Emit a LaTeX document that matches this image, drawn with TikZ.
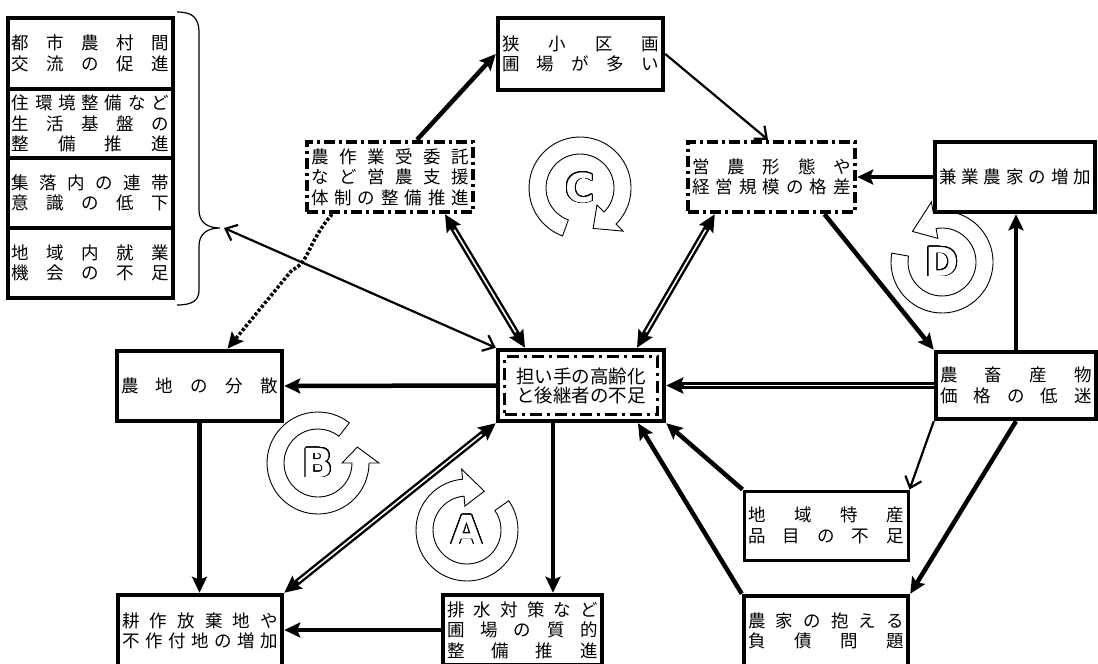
\documentclass[tikz,border=0pt]{standalone}
\usepackage{fontspec}
\usepackage[copies]{contour}
\usetikzlibrary{arrows.meta}
\newfontfamily\jpfont{Noto Sans CJK JP}
\newfontfamily\letterfont{DejaVu Sans}
\contourlength{0.8pt}
\contournumber{32}

% spread the characters of one line over the whole width
\newcommand\jl[1]{\makebox[\linewidth][s]{\jlfirst#1\relax}}
\def\jlfirst#1{#1\jlrest}
\def\jlrest#1{\ifx\relax#1\else\hfill#1\expandafter\jlrest\fi}

% hollow ring arrow with a letter: cx, cy, start angle, end angle, tip angle, letter
\newcommand\cycarrow[6]{%
  \begin{scope}[shift={(#1,#2)}, yscale=-1]
    \filldraw[ring] (#3:51) arc[start angle=#3, end angle=#4, radius=51]
      -- (#4:61) -- (#5:42.5) -- (#4:24) -- (#4:34)
      arc[start angle=#4, end angle=#3, radius=34] -- cycle;
    \node[cycletter] (cyc#6) at (0,0) {\contour{black}{#6}};
  \end{scope}}

\begin{document}
\begin{tikzpicture}[x=1pt, y=-1pt,
    box/.style 2 args={draw, line width=4.5pt, minimum width=#1, minimum height=#2,
      text width=#1-8, inner sep=0pt, align=center,
      font=\jpfont\fontsize{17.5}{20.5}\selectfont},
    dashbox/.style={dash pattern=on 11pt off 4pt on 3pt off 4pt},
    thinbox/.style={line width=3pt},
    innerdash/.style={draw, line width=3pt, inner sep=0pt,
      dash pattern=on 12pt off 5pt on 3pt off 5pt},
    arr/.style={line width=4.5pt, -{Stealth[length=16pt,width=15pt,inset=3pt]}},
    dbl/.style={line width=6.5pt,
      {Stealth[length=17pt,width=16pt,inset=3pt]}-{Stealth[length=17pt,width=16pt,inset=3pt]},
      postaction={draw=white, line width=1.6pt, arrows=-, shorten <=18pt, shorten >=18pt}},
    dblone/.style={line width=6.5pt, -{Stealth[length=17pt,width=16pt,inset=3pt]},
      postaction={draw=white, line width=1.6pt, arrows=-, shorten >=18pt}},
    thin/.style={line width=2.2pt, -{Straight Barb[length=10pt,width=17pt]}},
    thinboth/.style={line width=2.2pt, {Straight Barb[length=10pt,width=17pt]}-{Straight Barb[length=10pt,width=17pt]}},
    dotarr/.style={line width=3.5pt, dash pattern=on 3pt off 2pt,
      -{Stealth[length=16pt,width=15pt,inset=3pt]}},
    ring/.style={fill=white, draw=black, line width=0.9pt},
    cycletter/.style={font=\letterfont\bfseries\fontsize{40}{40}\selectfont,
      text=white, inner sep=0pt}
  ]
  \useasboundingbox (0,0) rectangle (1098,664);
  \clip (0,0) rectangle (1098,664);

  % ring arrows
  \cycarrow{318}{463}{52}{360}{22}{B}
  \cycarrow{467}{530}{35}{-265}{-294}{A}
  \cycarrow{580}{188}{250}{-45}{-72}{C}
  \cycarrow{942}{262}{170}{460}{494}{D}

  % left column
  \node[box={165}{71}] (s1) at (90.5,53.5) {\jl{都市農村間}\\\jl{交流の促進}};
  \node[box={165}{69}] (s2) at (90.5,123.5) {\jl{住環境整備など}\\\jl{生活基盤の}\\\jl{整備推進}};
  \node[box={165}{70}] (s3) at (90.5,193) {\jl{集落内の連帯}\\\jl{意識の低下}};
  \node[box={165}{70}] (s4) at (90.5,263) {\jl{地域内就業}\\\jl{機会の不足}};
  \coordinate (bracetip) at (220,228);
  \draw[line width=1.2pt] (177,12) .. controls (193,12) and (199,18) .. (199,33)
    -- (199,210) .. controls (199,222) and (207,228) .. (bracetip)
    .. controls (207,228) and (199,234) .. (199,246)
    -- (199,290) .. controls (199,300) and (193,305) .. (177,305);

  % boxes
  \node[box={165}{72}] (kyosho) at (580.5,54) {\jl{狭小区画}\\\jl{圃場が多い}};
  \node[box={166}{70}, dashbox] (itaku) at (390,177) {\jl{農作業受委託}\\\jl{など営農支援}\\\jl{体制の整備推進}};
  \node[box={167}{70}, dashbox] (keitai) at (771.5,177) {\jl{営農形態や}\\\jl{経営規模の格差}};
  \node[box={160}{70}] (kengyo) at (1015,177) {\jl{兼業農家の増加}};
  \node[box={165}{70}] (bunsan) at (199.5,386) {\jl{農地の分散}};
  \node[box={166}{71}, font=\jpfont\fontsize{18.5}{19}\selectfont] (ninaite) at (581,385.5) {担い手の高齢化\\と後継者の不足};
  \node[innerdash, minimum width=153, minimum height=58] (ninaiteIn) at (ninaite) {};
  \node[box={160}{67}] (kakaku) at (1016,385.5) {\jl{農畜産物}\\\jl{価格の低迷}};
  \node[box={164}{69}, thinbox] (tokusan) at (826,525.5) {\jl{地域特産}\\\jl{品目の不足}};
  \node[box={164}{72}] (houki) at (200,631) {\jl{耕作放棄地や}\\\jl{不作付地の増加}};
  \node[box={159}{70}] (haisui) at (522.5,630) {\jl{排水対策など}\\\jl{圃場の質的}\\\jl{整備推進}};
  \node[box={164}{70}] (fusai) at (826,631) {\jl{農家の抱える}\\\jl{負債問題}};

  % connectors
  \draw[arr] (ninaite.west) -- (bunsan.east);
  \draw[arr] (bunsan.south) -- (bunsan.south |- houki.north);
  \draw[dbl] (ninaite.south west) -- (houki.north east);
  \draw[arr] ([xshift=-28pt]ninaite.south) -- ([xshift=-28pt]ninaite.south |- haisui.north);
  \draw[arr] (haisui.west) -- (haisui.west -| houki.east);
  \draw[arr] ([xshift=27pt]itaku.north) -- (kyosho.west);
  \draw[thin] (kyosho.east) -- ([xshift=-3.5pt]keitai.north);
  \draw[arr] (kengyo.west) -- (kengyo.west -| keitai.east);
  \draw[arr] (kakaku.north) -- (kakaku.north |- kengyo.south);
  \draw[arr] ([xshift=53pt]keitai.south) -- (kakaku.north west);
  \draw[dbl] ([xshift=55pt]itaku.south) -- ([xshift=-56pt]ninaite.north);
  \draw[dbl] ([xshift=29pt]keitai.south west) -- ([xshift=56pt]ninaite.north);
  \draw[dblone] (kakaku.west) -- (kakaku.west -| ninaite.east);
  \draw[arr] (tokusan.north west) -- (ninaite.south east);
  \draw[arr] (fusai.north west) -- ([xshift=57pt]ninaite.south);
  \draw[arr] (kakaku.south) -- (fusai.north east);
  \draw[thin] (kakaku.south west) -- (tokusan.north east);
  \draw[thinboth] (ninaite.north west) -- ([xshift=4pt]bracetip);
  \draw[dotarr] ([xshift=-58pt]itaku.south) .. controls (306,245) and (310,262) .. (292,270)
    -- ([xshift=28pt]bunsan.north);
\end{tikzpicture}
\end{document}
